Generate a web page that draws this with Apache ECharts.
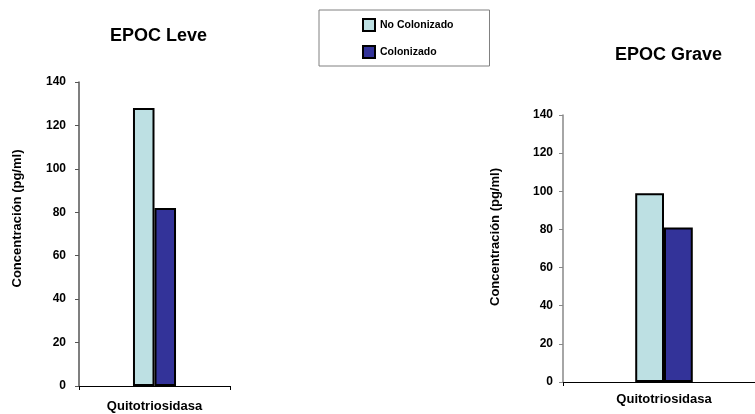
<!DOCTYPE html>
<html>
<head>
<meta charset="utf-8">
<script src="https://cdn.jsdelivr.net/npm/echarts@6/dist/echarts.min.js"></script>
<style>
  html, body { margin: 0; padding: 0; background: #fff; }
  #chart { width: 755px; height: 414px; }
</style>
</head>
<body>
<div id="chart"></div>
<script>
// Chitotriosidase concentration, mild vs severe COPD
const categories = ['Quitotriosidasa'];
const seriesNames = ['No Colonizado', 'Colonizado'];
const leveNoColonizado = [128];
const leveColonizado = [82];
const graveNoColonizado = [99];
const graveColonizado = [81];
const panelTitles = ['EPOC Leve', 'EPOC Grave'];
const yAxisName = 'Concentración (pg/ml)';
const yTicks = { min: 0, max: 140, interval: 20 };

const FONT = '"Liberation Sans", Arial, sans-serif';
const LIGHT = '#bde0e3';
const DARK = '#333399';

const chart = echarts.init(document.getElementById('chart'), null, { renderer: 'canvas' });

function yAxisFor(gridIndex, axisColor, labelMargin, nameGap, namePad) {
  return {
    type: 'value',
    gridIndex: gridIndex,
    min: yTicks.min, max: yTicks.max, interval: yTicks.interval,
    name: yAxisName,
    nameLocation: 'middle',
    nameGap: nameGap,
    nameRotate: 90,
    nameTextStyle: { fontFamily: FONT, fontWeight: 'bold', fontSize: 13, color: '#000', padding: namePad },
    axisLine: { show: true, lineStyle: { color: axisColor, width: 1.5 } },
    axisTick: { show: true, length: 4, inside: false, lineStyle: { color: axisColor, width: 1 } },
    axisLabel: { fontFamily: FONT, fontWeight: 'bold', fontSize: 12, color: '#000', margin: labelMargin },
    splitLine: { show: false }
  };
}

function xAxisFor(gridIndex, labelMargin) {
  return {
    type: 'category',
    gridIndex: gridIndex,
    data: categories,
    axisLine: { show: true, onZero: false, lineStyle: { color: '#000', width: 1.2 } },
    axisTick: { show: true, length: 4, lineStyle: { color: '#000' } },
    axisLabel: { fontFamily: FONT, fontWeight: 'bold', fontSize: 13, color: '#000', margin: labelMargin }
  };
}

function barSeries(name, data, color, axisIndex) {
  return {
    name: name,
    type: 'bar',
    xAxisIndex: axisIndex,
    yAxisIndex: axisIndex,
    data: data,
    barGap: '0%',
    barCategoryGap: '71.5%',
    itemStyle: { color: color, borderColor: '#000', borderWidth: 2 },
    emphasis: { disabled: true }
  };
}

chart.setOption({
  animation: false,
  backgroundColor: '#fff',
  title: [
    { text: panelTitles[0], left: 110, top: 27,
      textStyle: { fontFamily: FONT, fontWeight: 'bold', fontSize: 18, color: '#000' }, padding: 0 },
    { text: panelTitles[1], left: 615, top: 46,
      textStyle: { fontFamily: FONT, fontWeight: 'bold', fontSize: 18, color: '#000' }, padding: 0 }
  ],
  legend: {
    data: seriesNames,
    orient: 'vertical',
    left: 319, top: 10,
    width: 170,
    padding: [8, 36, 7, 43],
    itemWidth: 12, itemHeight: 12,
    itemGap: 13,
    icon: 'rect',
    borderColor: '#808080', borderWidth: 1,
    textStyle: { fontFamily: FONT, fontWeight: 'bold', fontSize: 10.5, color: '#000' },
    selectedMode: false
  },
  grid: [
    { left: 79, top: 82, width: 151, height: 304, outerBoundsMode: 'none' },
    { left: 563, top: 115, width: 202, height: 267, outerBoundsMode: 'none' }
  ],
  xAxis: [xAxisFor(0, 14), xAxisFor(1, 11)],
  yAxis: [
    yAxisFor(0, '#555', 13, 55, [0, 0, 0, 31]),
    yAxisFor(1, '#888', 10, 61, [0, 0, 0, 23])
  ],
  series: [
    barSeries(seriesNames[0], leveNoColonizado, LIGHT, 0),
    barSeries(seriesNames[1], leveColonizado, DARK, 0),
    barSeries(seriesNames[0], graveNoColonizado, LIGHT, 1),
    barSeries(seriesNames[1], graveColonizado, DARK, 1)
  ]
});
</script>
</body>
</html>
